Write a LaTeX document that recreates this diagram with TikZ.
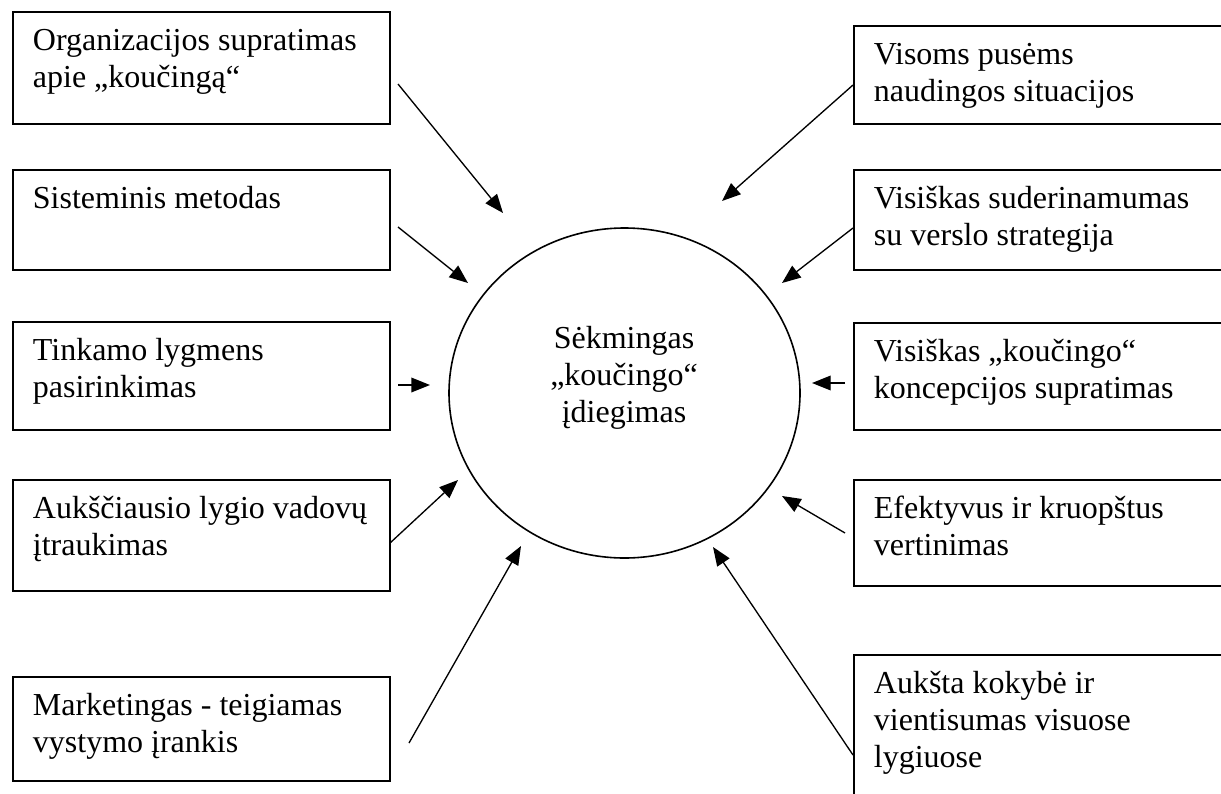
\documentclass[tikz,border=0pt]{standalone}
\usepackage{fontspec}
\setmainfont{Liberation Serif}
\usetikzlibrary{arrows.meta,shapes.geometric}
\def\factortext#1#2{\parbox[c][#1][t]{252.75pt}{\raggedright\vspace*{9.8pt}\strut #2}}

\begin{document}
\begin{tikzpicture}[x=0.75pt, y=-0.75pt,
	factor/.style={draw, line width=1.4pt, anchor=north west, inner xsep=15pt, inner ysep=0pt, minimum width=282.75pt, font=\fontsize{24}{27.75}\selectfont},
	hub/.style={draw, ellipse, line width=1.2pt, minimum width=263.25pt, minimum height=247.5pt, inner sep=0pt},
	hubtext/.style={align=center, inner sep=0pt, font=\fontsize{24}{27.75}\selectfont},
	feed/.style={line width=1pt, -{Triangle[length=14pt, width=11pt]}}]
			%%%%% START %%%%%
			
			\useasboundingbox (0,0) rectangle (1221,793);
			\clip (0,0) rectangle (1221,793);
			
			\node[hub] (core) at (624.5,393) {};
			\node[hubtext] (coretext) at (624,377.5) {Sėkmingas\\„koučingo“\\įdiegimas};
			
			\node[factor] (org) at (12,11) {\factortext{84pt}{Organizacijos supratimas\\apie „koučingą“}};
			\node[factor] (sys) at (12,169) {\factortext{75pt}{Sisteminis metodas}};
			\node[factor] (lvl) at (12,321) {\factortext{81pt}{Tinkamo lygmens\\pasirinkimas}};
			\node[factor] (lead) at (12,479) {\factortext{83.25pt}{Aukščiausio lygio vadovų\\įtraukimas}};
			\node[factor] (mkt) at (12,676) {\factortext{78pt}{Marketingas - teigiamas\\vystymo įrankis}};
			
			\node[factor] (win) at (853,25) {\factortext{73.5pt}{Visoms pusėms\\naudingos situacijos}};
			\node[factor] (fit) at (853,169) {\factortext{75pt}{Visiškas suderinamumas\\su verslo strategija}};
			\node[factor] (con) at (853,322) {\factortext{80.25pt}{Visiškas „koučingo“\\koncepcijos supratimas}};
			\node[factor] (eval) at (853,479) {\factortext{79.5pt}{Efektyvus ir kruopštus\\vertinimas}};
			\node[factor] (qual) at (853,654) {\factortext{120pt}{Aukšta kokybė ir\\vientisumas visuose\\lygiuose}};
			
			\coordinate (org-out) at (398,84);
			\coordinate (org-in) at (503,213);
			\coordinate (sys-out) at (398,227);
			\coordinate (sys-in) at (468,283);
			\coordinate (lvl-out) at (398,385);
			\coordinate (lvl-in) at (430,385);
			\coordinate (lead-out) at (390,543);
			\coordinate (lead-in) at (458,480);
			\coordinate (mkt-out) at (409,743);
			\coordinate (mkt-in) at (521,546);
			
			\coordinate (win-out) at (853,85);
			\coordinate (win-in) at (722,201);
			\coordinate (fit-out) at (853,228);
			\coordinate (fit-in) at (782,283);
			\coordinate (con-out) at (845,383);
			\coordinate (con-in) at (812,383);
			\coordinate (eval-out) at (845,533);
			\coordinate (eval-in) at (782,496);
			\coordinate (qual-out) at (853,755);
			\coordinate (qual-in) at (713,547);
			
			\draw[feed] (org-out) -- (org-in);
			\draw[feed] (sys-out) -- (sys-in);
			\draw[feed] (lvl-out) -- (lvl-in);
			\draw[feed] (lead-out) -- (lead-in);
			\draw[feed] (mkt-out) -- (mkt-in);
			
			\draw[feed] (win-out) -- (win-in);
			\draw[feed] (fit-out) -- (fit-in);
			\draw[feed] (con-out) -- (con-in);
			\draw[feed] (eval-out) -- (eval-in);
			\draw[feed] (qual-out) -- (qual-in);
			
			%%%%% END %%%%%
		\end{tikzpicture}
\end{document}
